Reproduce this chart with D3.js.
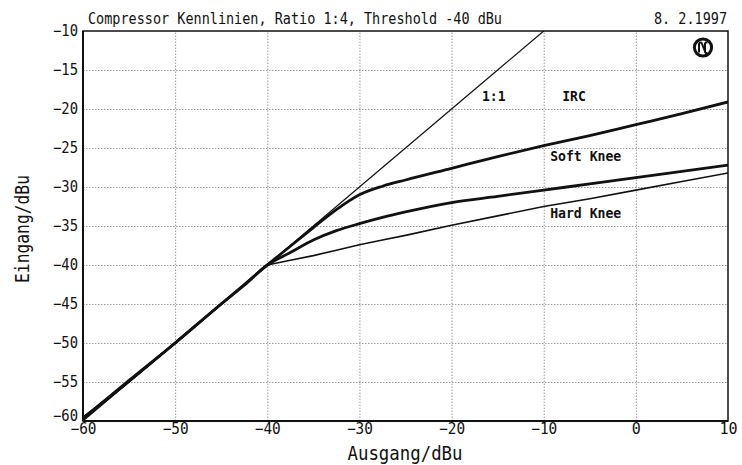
<!DOCTYPE html>
<html>
<head>
<meta charset="utf-8">
<script src="https://cdn.jsdelivr.net/npm/d3@7"></script>
<style>
  html, body { margin: 0; padding: 0; background: #fff; }
  svg { display: block; }
  text { font-family: "DejaVu Sans Mono", "Liberation Mono", monospace; fill: #111; }
</style>
</head>
<body>
<svg id="chart" width="742" height="465"></svg>
<script>
// ---- data ----
const title = "Compressor Kennlinien, Ratio 1:4, Threshold -40 dBu";
const dateLabel = "8. 2.1997";
const xLabel = "Ausgang/dBu";
const yLabel = "Eingang/dBu";
const xTicks = [-60, -50, -40, -30, -20, -10, 0, 10];
const yTicks = [-10, -15, -20, -25, -30, -35, -40, -45, -50, -55, -60];

const levels     = [-60, -55, -50, -45, -42.5, -40, -37.5, -35, -32.5, -30, -27.5, -25, -20, -15, -10, -5, 0, 5, 10];
const oneToOne   = [-60, -55, -50, -45, -42.5, -40, -37.5, -35, -32.5, -30, -27.5, -25, -20, -15, -10, -5, 0, 5, 10];
const irc        = [-59.7, -54.8, -50, -45, -42.5, -40, -37.6, -35.2, -32.9, -31.0, -29.9, -29.1, -27.6, -26.1, -24.7, -23.4, -22.0, -20.6, -19.1];
const softKnee   = [-59.6, -54.9, -50, -45, -42.6, -40, -38.4, -36.8, -35.6, -34.7, -33.9, -33.2, -32.0, -31.2, -30.4, -29.6, -28.8, -28.0, -27.2];
const hardKnee   = [-59.8, -55, -50, -45, -42.5, -40, -39.4, -38.8, -38.1, -37.4, -36.8, -36.2, -34.9, -33.7, -32.5, -31.5, -30.4, -29.3, -28.2];

const curveLabels = [
  { text: "1:1",       x: -16.7, y: -19.0 },
  { text: "IRC",       x: -8.0,  y: -19.0 },
  { text: "Soft Knee", x: -9.3,  y: -26.7 },
  { text: "Hard Knee", x: -9.3,  y: -34.0 }
];

// ---- layout ----
const svg = d3.select("#chart");
const m = { left: 83, top: 31, right: 14, bottom: 44 };
const W = 742 - m.left - m.right;   // 645
const H = 465 - m.top - m.bottom;   // 390

const x = d3.scaleLinear().domain([-60, 10]).range([m.left, m.left + W]);
const y = d3.scaleLinear().domain([-60, -10]).range([m.top + H, m.top]);

// clip
svg.append("defs").append("clipPath").attr("id", "plotclip")
  .append("rect").attr("x", m.left).attr("y", m.top).attr("width", W).attr("height", H);

// grid via axes
const gx = svg.append("g").attr("transform", `translate(0,${m.top + H})`)
  .call(d3.axisBottom(x).tickValues(xTicks).tickSize(-H).tickFormat(d => d < 0 ? "\u2212" + Math.abs(d) : d).tickPadding(2));
const gy = svg.append("g").attr("transform", `translate(${m.left},0)`)
  .call(d3.axisLeft(y).tickValues(yTicks).tickSize(-W).tickFormat(d => "\u2212" + Math.abs(d)).tickPadding(5));

[gx, gy].forEach(g => {
  g.select(".domain").remove();
  g.selectAll(".tick line").attr("stroke", "#9a9a9a").attr("stroke-width", 1)
    .attr("stroke-dasharray", "1.5,1.5");
  g.selectAll(".tick text").attr("font-size", 15).attr("fill", "#111")
    .attr("font-family", "'DejaVu Sans Mono', monospace");
});
gx.selectAll(".tick text").attr("dy", "0.72em").attr("textLength", 26).attr("lengthAdjust", "spacingAndGlyphs");
gx.selectAll(".tick").filter(d => d === 0 || d === 10).select("text").attr("textLength", null);
gy.selectAll(".tick text").attr("textLength", 25).attr("lengthAdjust", "spacingAndGlyphs");
gy.selectAll(".tick").filter(d => d === -60).select("text").attr("dy", "-0.05em");
gy.selectAll(".tick").filter(d => d === -10 || d === -60).select("line").remove();
gx.selectAll(".tick").filter(d => d === -60 || d === 10).select("line").remove();

// curves
const plot = svg.append("g").attr("clip-path", "url(#plotclip)");
const series = [
  { vals: oneToOne, w: 1.2, curve: d3.curveLinear },
  { vals: hardKnee, w: 1.6, curve: d3.curveLinear },
  { vals: softKnee, w: 2.8, curve: d3.curveMonotoneX },
  { vals: irc,      w: 2.8, curve: d3.curveMonotoneX }
];
series.forEach(s => {
  const line = d3.line().x(d => x(d[0])).y(d => y(d[1])).curve(s.curve);
  plot.append("path")
    .attr("d", line(levels.map((l, i) => [l, s.vals[i]])))
    .attr("fill", "none").attr("stroke", "#111").attr("stroke-width", s.w)
    .attr("stroke-linejoin", "round").attr("stroke-linecap", "round");
});

// frame
svg.append("rect").attr("x", m.left).attr("y", m.top).attr("width", W).attr("height", H)
  .attr("fill", "none").attr("stroke", "#111").attr("stroke-width", 1.5);
svg.append("line").attr("x1", m.left).attr("x2", m.left).attr("y1", m.top).attr("y2", m.top + H)
  .attr("stroke", "#111").attr("stroke-width", 2);
svg.append("line").attr("x1", m.left).attr("x2", m.left + W).attr("y1", m.top + H).attr("y2", m.top + H)
  .attr("stroke", "#111").attr("stroke-width", 2.2);

// curve labels
curveLabels.forEach(c => {
  svg.append("text").attr("x", x(c.x)).attr("y", y(c.y))
    .attr("font-size", 14).attr("font-weight", "bold")
    .attr("textLength", c.text.length * 7.9).attr("lengthAdjust", "spacingAndGlyphs")
    .text(c.text);
});

// title + date
svg.append("text").attr("x", 88).attr("y", 24).attr("font-size", 15)
  .attr("textLength", 414).attr("lengthAdjust", "spacingAndGlyphs").text(title);
svg.append("text").attr("x", 727).attr("y", 24).attr("font-size", 15).attr("text-anchor", "end")
  .attr("textLength", 73).attr("lengthAdjust", "spacingAndGlyphs").text(dateLabel);

// axis titles
svg.append("text").attr("x", 405).attr("y", 460).attr("font-size", 19).attr("text-anchor", "middle")
  .attr("textLength", 115).attr("lengthAdjust", "spacingAndGlyphs").text(xLabel);
svg.append("text").attr("transform", "translate(29,229) rotate(-90)").attr("font-size", 19)
  .attr("text-anchor", "middle").attr("textLength", 108).attr("lengthAdjust", "spacingAndGlyphs").text(yLabel);

// logo
const logo = svg.append("g").attr("transform", "translate(703,47.5)");
logo.append("circle").attr("r", 8.6).attr("fill", "none").attr("stroke", "#111").attr("stroke-width", 3);
logo.append("path").attr("d", "M-4,5 L-4,-3 Q-4,-5.5 -1.5,-5 M-1.5,-5 L2,4 M2,-5 L2,4 Q2,6 4.5,5.5 M2,-5 L4.5,-5")
  .attr("fill", "none").attr("stroke", "#111").attr("stroke-width", 2);
</script>
</body>
</html>
